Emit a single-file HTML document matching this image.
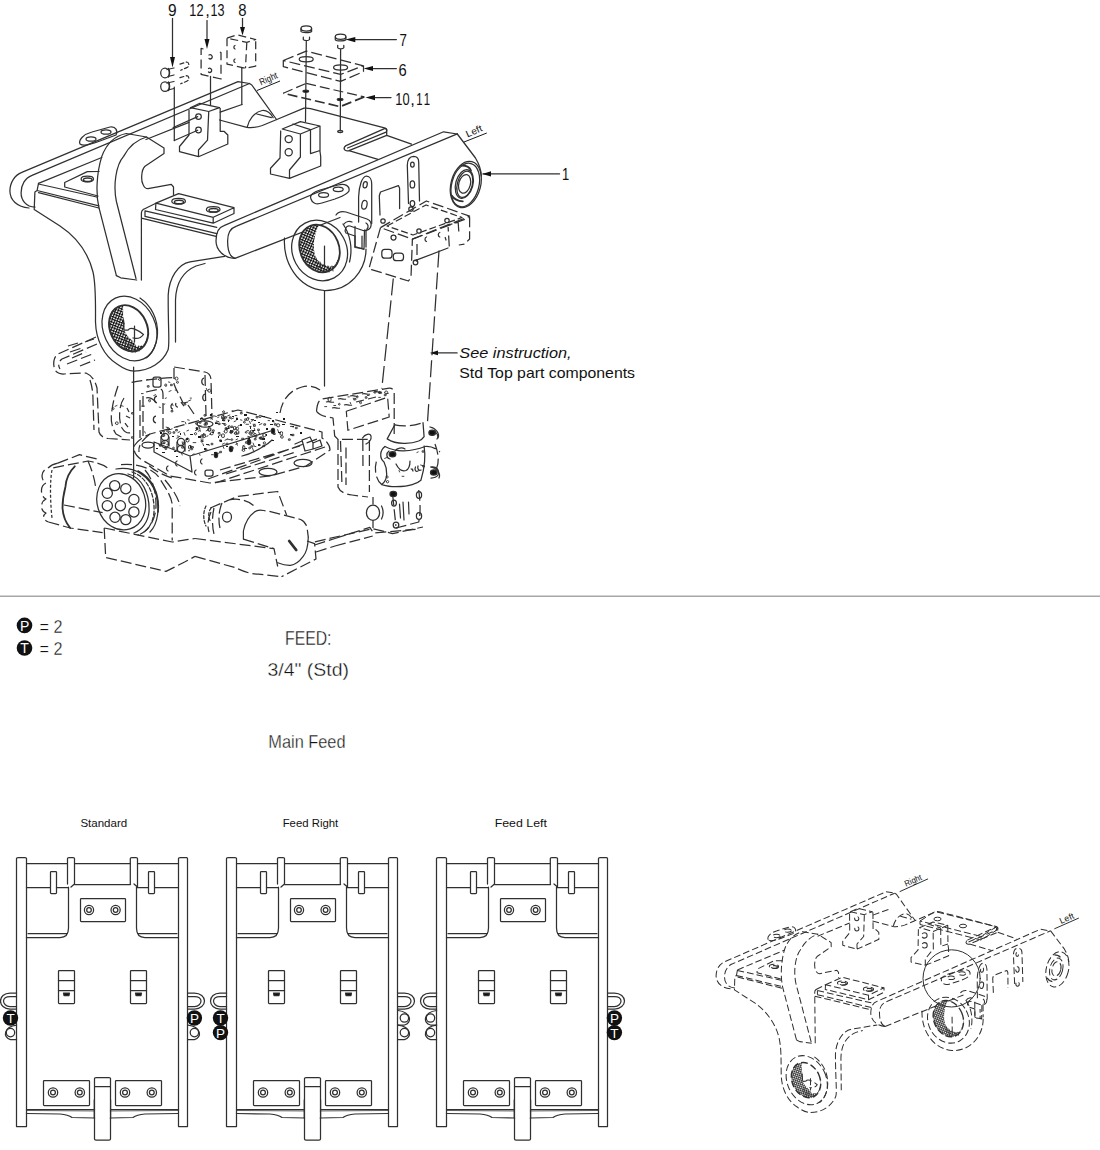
<!DOCTYPE html>
<html><head><meta charset="utf-8"><style>
html,body{margin:0;padding:0;background:#fff;width:1100px;height:1150px;overflow:hidden}
svg{display:block}
.ln path,.ln ellipse,.ln circle,.ln line,.ln rect,.ln polyline,.ln polygon{fill:none;stroke:#303030;stroke-width:1.25;stroke-linejoin:round;stroke-linecap:round}
.ds path,.ds ellipse,.ds circle,.ds line,.ds rect,.ds polyline{fill:none;stroke:#303030;stroke-width:1.25;stroke-dasharray:11 4;stroke-linejoin:round}
.small .ln path,.small .ln ellipse,.small .ln circle,.small .ln line,.small .ln rect{stroke-dasharray:9 4;stroke-width:1.35;stroke-linecap:butt}
text{font-family:"Liberation Sans",sans-serif;fill:#111}
.thin,.thin text{stroke:#fff;stroke-width:0.32}
</style></head><body>
<svg width="1100" height="1150" viewBox="0 0 1100 1150">
<!-- TOP FRAME -->
<g id="frame" class="ln">
 <!-- back bar -->
 <path d="M29,208 C17,207 10,200 9.9,191 C10,182 15,175 21.8,172.4 L238,81.6 L249.5,83.5"/>
 <path d="M35,207 C26,207 21,200 21.1,192.7 C21,185 25,178 32,175.3 L249.5,83.5"/>
 <path d="M249.5,83.5 L251.8,85 L276.5,119.5"/>
 <path d="M38.5,183.3 L101.8,157.5"/>
 <path d="M146,139.5 L189,122.4 M220.2,112.2 L242,104.5"/>
 <!-- half cylinder / plate back edge -->
 <path d="M219.5,120 L246.8,127.3 C252,128 258,127 262.3,125.5 L276.8,119.5 L304,108.2 C306,107.8 308,108 310.5,108.6 L383.5,127.6 C386,128.2 387,129.5 386.7,131"/>
 <path d="M247.3,126.8 C249,120 254,112 262.3,110.5 C267,110 271,114 273.2,117.7 M256.8,114 L271.4,117.7"/>
 <!-- slot -->
 <path d="M346,145.6 L384.5,128.6 C386.5,128 387,130 386.7,131 L386.7,135.4 L348.9,150.7 C345,151.5 342,149 346,145.6 M347.5,148 L386,132.2 M348.9,150.7 L378,159.4 M386.7,135.4 L411.5,144.2"/>
 <!-- front bar -->
 <path d="M234.9,258.4 C224,258 216,250 216,241 C216,233 219,227 224,225.6 L443.6,131.8 L457.3,134"/>
 <path d="M234.9,258.4 C230,257 227.6,250 227.6,241 C227.6,233 231,228 236.5,226.2 L457.3,133.8"/>
 
 <path d="M234.9,258.4 L340,217.5"/>
 <!-- bolt plate left (behind hook) -->
 <path d="M99,171.5 L87.3,171.6 L64.7,182.5 L64.7,187 L98,196"/>
 <ellipse cx="87.3" cy="179" rx="6.2" ry="2.8"/><ellipse cx="87.7" cy="179.7" rx="4.3" ry="1.8" style="stroke-width:1.5"/>
 <!-- frame block under back bar -->
 <path d="M38.5,184 L96.7,197 M37.1,190.5 L98.9,205.8 M38.5,192.7 L98.9,208 M38.5,183.3 L37.1,190.5 L34.9,192 L34.2,209.5 L60,226 C75,236 88,252 93,272 C96,285 95.5,300 95.5,322 C96,340 104,356 117,364 C124,369 130,371 134,371 C150,371 163,362 168,350 C170,345 168,330 168.2,295 C169,278 178,264 190,261.8 L224.5,256.4"/>
 <path d="M175.5,342 L175.5,300 C176,283 182,272 196,266 L205,263.5"/>
 <!-- bolt plates on top -->
 <path d="M80,144 C78,140 84,134 92,132 L110,127 C116,126 118,131 116,135 L100,141 C95,143 84,147 80,144 Z"/>
 <ellipse cx="91" cy="139" rx="5" ry="2.2"/><ellipse cx="106" cy="132" rx="5" ry="2.2"/>
 <path d="M155.9,203.2 L178.6,193.6 L234,207.7 L213.2,217.3 Z M155.9,203.2 L155.5,209.5 L213.2,223.2 L234,213.5 L234,207.7 M213.2,217.3 L213.2,223.2"/>
 <ellipse cx="178.6" cy="201.2" rx="6.8" ry="2.8"/><ellipse cx="179" cy="202" rx="4.6" ry="1.8" style="stroke-width:1.5"/><ellipse cx="213.2" cy="209.4" rx="6.8" ry="2.8"/><ellipse cx="213.6" cy="210.2" rx="4.6" ry="1.8" style="stroke-width:1.5"/>
 <path d="M145,210.9 L216.8,227.3 M145,216.4 L216.8,233.6 M141.4,218.2 L216,236.4 M143.2,209.5 L155.9,203.2 M145,210.9 L145,216.4 M141.4,280 L141.4,213 C141.4,211 142.5,210 143.2,209.5"/>
 <!-- hook -->
 <path d="M116.4,275.6 L98.9,207.3 C96,195 96,175 101.8,156.4 C106,145 114,136 126.2,133.5 L146.5,137 L164,148 L164,153.5 L145,166.2 C141,170 141,181 143,184.4 C144,187 146,188.7 148,188.7 L171.3,184.4 L173.5,187 L173.5,194.5"/>
 <path d="M136,278.5 L116.4,201.5 C113,185 116,165 123.6,156.4 C128,148 136,140 146.5,137"/>
 <path d="M116.4,275.6 L120.7,277.8 L136.7,280"/>
 <!-- pillow block 1 -->
 <path d="M190.3,107.7 L199.8,103.3 L219.5,107.7 L208.7,111.5 Z M189,110.3 L189,135 L179.5,146.5 L179.5,151.6 L198.5,156.7 L198.5,150 L207.5,140.2 L208.7,112.2 M220.2,108.4 L220.2,131.3 L224,131.3 L227.8,135 L227.8,144 L198.5,156.7"/>
 <circle cx="198.5" cy="116.6" r="2.8"/><circle cx="198.5" cy="130" r="2.8"/>
 <!-- pillow block 2 -->
 <path d="M282.2,129 L300.4,121.6 L320,126 L300.4,134 Z M293,124 L310.5,129.6 M280.7,131 L280,158 L270.5,168.2 L270.5,174 L289.5,178.4 L289.5,170 L300.4,157 L300.4,134.7 M310.5,129.6 L310.5,153.6 L320,150.5 M320,126 L320,151.5 L320.7,156.5 L320.7,166 L289.5,178.4"/>
 <circle cx="288.7" cy="139.1" r="3.6"/><circle cx="288.7" cy="152.2" r="3.6"/>
 <!-- bolt plate 3 under front bar -->
 <path d="M311,199 C309,195 314,192 320,190 L338,185 C345,183 350,186 349,191 C347,195 340,197 335,199 L322,203 C316,205 312,203 311,199 Z"/>
 <ellipse cx="323.6" cy="195" rx="5" ry="2.3"/><ellipse cx="338.2" cy="189.3" rx="5" ry="2.3"/>
</g>
<defs>
 <pattern id="hx" width="2.6" height="2.6" patternUnits="userSpaceOnUse" patternTransform="rotate(45)">
  <rect width="2.6" height="2.6" fill="#fff"/><path d="M0.5,0 L0.5,2.6 M0,0.5 L2.6,0.5" stroke="#111" stroke-width="1"/>
 </pattern>
 <pattern id="hl" width="2.6" height="2.6" patternUnits="userSpaceOnUse" patternTransform="rotate(45)">
  <rect width="2.6" height="2.6" fill="#fff"/><path d="M0.5,0 L0.5,2.6" stroke="#111" stroke-width="1.1"/>
 </pattern>
</defs>
<g class="ln">
 <!-- leg bushing -->
 <ellipse cx="129.5" cy="328.5" rx="26" ry="33.5" transform="rotate(-25 129.5 328.5)"/>
 <path d="M140,298 C152,306 158,320 157.5,334 C157,345 152,354 146,358" />
 <ellipse cx="128.6" cy="328.3" rx="18.5" ry="24" transform="rotate(-25 128.6 328.3)" style="fill:url(#hx);stroke:none"/>
 <path d="M123.1,305.6 L123.1,315.9 L124.6,323.3 L123.8,330 L127.5,335.9 L133.5,341.8 L136.4,346.2 L143,345.5 C147,340 148,335 147.5,328 C146,318 140,309 131,305.5 Z" style="fill:#fff;stroke:none"/>
 <ellipse cx="128.6" cy="328.3" rx="18.5" ry="24" transform="rotate(-25 128.6 328.3)" style="stroke-width:1.9"/>
 <path d="M123.8,330 L128,330 M128,330 C131,326 138,330 143.5,334.5 C141,338 137,339 133,338 M134.5,326 L134.5,342 M123.5,320 L124,330" />
 <path d="M126,338 L125,349 M129,341 L128.5,351 M132,343 L132,352 M135,346 L135.5,352 M138.5,346 L139,351" style="stroke-width:1"/>
 <!-- middle bushing -->
 <path d="M284.5,238 C283,262 297,288 324.5,290.5 C350,291 366,270 366,249"/>
 <ellipse cx="319.6" cy="250.5" rx="27" ry="31" transform="rotate(-28 319.6 250.5)"/>
 <path d="M343,224 C350,234 353,248 349.5,262"/>
 <ellipse cx="319.5" cy="248.5" rx="19.5" ry="24.5" transform="rotate(-22 319.5 248.5)" style="fill:url(#hx);stroke:none"/>
 <path d="M318.5,226 C314,235 312,248 316,258 C320,264 328,268 334,266 C339,260 341,250 339,240 C335,230 328,225 318.5,226 Z" style="fill:#fff;stroke:none"/>
 <ellipse cx="319.5" cy="248.5" rx="19.5" ry="24.5" transform="rotate(-22 319.5 248.5)" style="stroke-width:1.8"/>
 <path d="M316,258 L318,268 M320,262 L321,270 M324,265 L325,271.5 M328,266 L329,272 M332,266 L333,271" style="stroke-width:1"/>
 <line x1="324.5" y1="246" x2="324.5" y2="266"/>
 <!-- clamp -->
 <path d="M336,215 C338,212 342,211 346,212 L367,219 C371,220.5 372,224 370.5,227.5 C369,230 366,231 363,230.5 L350,226 C346,225 344,230 346,233 L355,236"/>
 <path d="M344,224 C346,221 350,221 352,222 M366,223 C368,224 369,227 367,229"/>
 <path d="M355,236 L355,247.5 L362,248.5 L362,236 M366,230 L366,247"/>
 <!-- ring 1 / lug -->
 <path d="M457.3,134 L475.5,158 C479,164 481.3,170 481.3,176"/>
 <ellipse cx="465.8" cy="184.5" rx="14.8" ry="23.6" transform="rotate(15 465.8 184.5)"/>
 <ellipse class="nosmall" cx="465.3" cy="185" rx="13.6" ry="22.2" transform="rotate(15 465.3 185)"/>
 <ellipse cx="464.3" cy="184" rx="8.6" ry="14.6" transform="rotate(15 464.3 184)"/>
 <ellipse class="nosmall" cx="464.8" cy="184.3" rx="7.5" ry="13.4" transform="rotate(15 464.8 184.3)"/>
 <ellipse cx="464.6" cy="183.9" rx="5.8" ry="9.5" transform="rotate(15 464.6 183.9)"/>
 <path d="M462,165.5 C466,165.5 469.5,167 471,170.5 M451.7,195.5 C454,199 458,201 462.8,201.3" style="stroke-width:1.8"/>
 <!-- tabs -->
 <path d="M358.6,222 L358.6,197 C359,186 362,176.5 366.5,176 C370,176 371.7,180 371.7,184 L371.7,223.5"/>
 <ellipse cx="365.2" cy="184.7" rx="2" ry="3.2" transform="rotate(12 365.2 184.7)"/><ellipse cx="364.4" cy="204.8" rx="2.6" ry="4.4" transform="rotate(12 364.4 204.8)"/>
 <path d="M408.5,203.5 L407.3,165.3 C407.5,159 410,156.5 413.6,156.4 C417,156.5 418.7,159 418.7,162 L419.5,201"/>
 <ellipse cx="412.4" cy="164.6" rx="1.8" ry="2.6"/><ellipse cx="412.4" cy="184.4" rx="2.3" ry="3.6"/><ellipse cx="412.4" cy="203.5" rx="2.3" ry="3"/>
 <path d="M380,215 L379.3,195.8 L380.5,192 L398.4,185.6 L399.6,188.2 L399.6,208.5"/>
 <path d="M355,226.4 L355,246.7 L364,249.3 L364.5,230"/>
</g>
<g class="ln">
 <line x1="324.5" y1="290.5" x2="324.5" y2="386"/>
 <line x1="133.6" y1="367" x2="133.6" y2="470"/>
 <!-- callout line 1 -->
 <line x1="483" y1="173.9" x2="559.5" y2="173.9"/>
</g>
<path d="M482.3,173.9 L491,171.2 L491,176.6 Z" fill="#111"/>
<g class="ds">
 <!-- valve block -->
 <path d="M380.5,227.6 L426.4,201 L469.6,216.2 L412.4,239.1 Z"/>
 <path d="M380.5,227.6 L369,268.4 C369.5,269.5 370.5,269.8 371.6,269.6 L408.5,281 L411,277.3 L412.4,239.1"/>
 <path d="M412.4,239.1 L469.6,217.5 L469.6,239 L464.5,244.2 L458.8,245 M458.8,231.5 L458.2,222.5 L448,225 L449.3,246.7"/>
 <path d="M387,226 L426,205 L462,217.5 L413,235 Z" style="stroke-dasharray:7 3"/>
 <path d="M417,244 L417,262"/>
 <path d="M393.3,278.5 L381.8,388.6" style="stroke-dasharray:17 5"/>
 <path d="M439,250.5 L427.3,425" style="stroke-dasharray:17 5"/>
</g>
<g class="ln">
 <circle cx="383" cy="221" r="2.2"/><circle cx="411" cy="209" r="2.2"/><circle cx="447" cy="220.5" r="2.2"/><circle cx="419" cy="231" r="2.2"/>
 <circle cx="393.5" cy="237.5" r="2.5"/>
 <rect x="381.8" y="249.3" width="10.2" height="8.9" rx="3"/>
 <rect x="393.3" y="253" width="10.2" height="7.7" rx="3"/>
 <path d="M415,260.7 L448,248"/>
 <circle cx="415.5" cy="262.5" r="2.3"/>
 <path d="M426.5,237 C424.5,237.5 424.5,241 426.5,241.5 M439.8,232.5 C437.8,233 437.8,236.5 439.8,237 M445.2,237.5 L446,240"/>
</g>
<g class="ln">
 <!-- arrows 9, 12,13, 8 -->
 <line x1="172.5" y1="18.4" x2="172.5" y2="60"/>
 <line x1="207" y1="20.5" x2="207" y2="42"/>
 <line x1="242.5" y1="18.4" x2="242.5" y2="29"/>
 <!-- bolts 9 -->
 <ellipse cx="165" cy="73" rx="4.3" ry="4.8"/>
 <ellipse cx="165" cy="86.6" rx="4.3" ry="4.8"/>
 <path d="M167,69.5 L174,68 M168,76.5 L174,75 M167,83 L174,81.5 M168,90 L174,88.5"/>
 <path d="M168.5,68.5 C170,70 170,75 168.5,77 M168.5,82 C170,83.5 170,88.5 168.5,90.5"/>
 <path d="M180,64.1 L186.8,62 C189.5,62.5 189.5,66.8 186.8,67.6 L180.7,70.2 M180,77.7 L186.8,75.6 C189.5,76.1 189.5,80.4 186.8,81.2 L180.7,83.8" style="stroke-dasharray:4 2.5"/>
 <line x1="174.3" y1="87" x2="174.3" y2="140.5"/>
 <path d="M173.2,127.5 L197.7,116.6 M174.3,140.5 L197.7,130.2"/>
 <line x1="210.5" y1="76.4" x2="210.5" y2="105"/>
 <path d="M241.8,68.2 L241.8,104.5"/>
 <!-- bolts 7 -->
 <ellipse cx="306.3" cy="28.5" rx="5.3" ry="2.6"/>
 <path d="M301,28.5 L301,31.5 C302,33 310,33 311.6,31.5 L311.6,28.5"/>
 <path d="M303.3,37.2 L303.3,39.5 C304,41 308.5,41 309.5,39.5 L309.5,37.2 M306.3,41.3 L305.5,121.5"/>
 <ellipse cx="340.6" cy="36.8" rx="5.3" ry="2.6"/>
 <path d="M335.3,36.8 L335.3,39.8 C336.5,41.3 344.5,41.3 345.9,39.8 L345.9,36.8"/>
 <path d="M337.7,45.4 L337.7,47.7 C338.5,49.2 343,49.2 343.8,47.7 L343.8,45.4 M340.6,49.5 L340.3,131"/>
 <!-- arrows 7, 6, 10,11 -->
 <line x1="350" y1="39.6" x2="396.4" y2="39.6"/>
 <line x1="368" y1="68.5" x2="396.4" y2="68.5"/>
 <line x1="370" y1="97.6" x2="391" y2="97.6"/>
 <ellipse cx="306.2" cy="59.3" rx="7" ry="2.6"/>
 <ellipse cx="340.6" cy="67.5" rx="7" ry="2.6"/>
 <ellipse cx="305.8" cy="91.2" rx="2.8" ry="1.1" style="fill:#111"/>
 <ellipse cx="340.1" cy="99.4" rx="2.8" ry="1.1" style="fill:#111"/>
 <ellipse cx="340.2" cy="131.5" rx="2.5" ry="1.1"/>
 <!-- See instruction arrow -->
 <line x1="436" y1="352.9" x2="457.1" y2="352.9"/>
</g>
<g fill="#111">
 <path d="M172.5,67.5 L170,57 L175,57 Z"/>
 <path d="M207,49 L204.5,39 L209.5,39 Z"/>
 <path d="M242.5,35.5 L240,27 L245,27 Z"/>
 <path d="M345.5,39.6 L355.3,37 L355.3,42.2 Z"/>
 <path d="M363.6,68.5 L373,66 L373,71 Z"/>
 <path d="M365.5,97.6 L375,95 L375,100.2 Z"/>
 <path d="M429.8,352.9 L438,350.6 L438,355.2 Z"/>
</g>
<g class="ds">
 <path d="M203.5,49 L201.1,48.4 L201.1,74.3 L221,79 L221,52.5 L218,51.8" style="stroke-dasharray:9 4.5"/>
 <path d="M227,38.2 L237.3,34.8 L255.7,39.5 L246.8,42.3 Z M227,38.2 L227,64.1 L245.5,68.2 L255.7,66.1 L255.7,39.5 M246.8,42.3 L245.5,68.2" style="stroke-dasharray:8 4"/>
 <path d="M283.3,60.5 L306.2,51.1 L363.5,65.8 L340.6,74.4 Z M283.3,60.5 L283.3,66.6 L340.6,81.4 L363.5,71.6 L363.5,65.8 M340.6,74.4 L340.6,81.4"/>
 <path d="M306.2,83.4 L364.3,96.9 M283.3,93.2 L306.2,83.4" style="stroke-dasharray:10 4"/><path d="M364.3,96.9 L340.1,106.7 L283.3,93.2" style="stroke-width:1.7;stroke-dasharray:10 4"/>
</g>
<g class="ln">
 <path d="M209,55 C211,54 213,56 212,58 C211,59 209.5,59 209,58.5 M208.5,68.5 C210,67.5 212.5,69 211.5,71.5 C210.5,72.5 209,72.5 208.5,72"/>
 <path d="M235,45.5 C233.5,46 233.5,48.5 235,49 M235,59 C233.5,59.5 233.5,62 235,62.5"/>
</g>
<g class="ds" style="stroke-dasharray:5 2.5">
 <!-- dashed arm upper-left -->
 <path d="M96,337 L58,354 C53,357 53,366 55,370 C57,373 60,374 64,374 L86,373 C91,375 95,380 97,388 L99,432 C100,436 104,438 108,438.5 L130,440"/>
 <path d="M97,344 L62,359 C58,362 58,366 60,369 M90,380 C92,386 93,392 93,400 L94,430"/>
 <path d="M68,346 L78,343 M70,352 L82,348 M72,358 L86,352 M67,364 L95,353 M85,342 L94,339 M80,366 L95,360"/>
 <!-- left block -->
 <path d="M118,386 C115,395 113,402 112,410 C110,420 112,428 116,434 L124,438.5 M124,398 C119,405 118,420 122,428 C125,433 130,434 132,432"/>
 <path d="M127,408 L129,412 M126,416 L130,418 M125,423 L128,427"/>
 <!-- center block -->
 <path d="M146,392 L160,389 C163,389 163,392 163,395 L163,432 M143,396 L143,436 M140,400 L140,438 M146,398 C152,396 155,402 158,404"/>
 <path d="M157,396 C154,396 153,402 157,403 M156,416 C153,416 152,422 156,423"/>
 <!-- right block -->
 <path d="M174,367 L205,372 C209,373 211,376 211,380 L212,416 M174,368 L174,384 C176,390 180,396 183,403 M205,375 L206,416 M183,403 L188,402 M188,405 L194,414"/>
 <path d="M204,378 C201,379 201,384 204,385 M205,394 C202,395 202,400 205,401"/>
 <path d="M172,404 C170,406 171,409 173,409 M176,403 C175,405 176,407 178,407 M181,402 L184,406"/>
 <path d="M131.6,382.4 C145,380 160,378 175.8,377.5"/>
 <!-- valve body base contour -->
 <path d="M134,446 C138,440 145,436 150,434 L238,410 L322,432 L322,438 C327,441 330,446 330,450 L306,466 L270,476 L210,483 L170,476 L142,460 C136,456 133,451 134,446"/>
 <path d="M150,434 C142,440 138,446 139,452 M172,478 C160,474 150,468 146,462"/>
 <path d="M208,479 L320,438 M215,483 L325,447 M220,470 L300,446 M226,474 L296,452"/>
 <!-- motor left -->
 <path d="M57.8,463.2 L79.5,454.7 L98,459.3 M53.2,467.8 L88,461 C100,463 106,466 110,470 M48.5,522 L70.2,528 L102.6,532.7 M64,505 L102.6,512.6"/>
 <path d="M57.8,463.2 C53,464 50,466 48,468 C41,470 40,480 46,483 C40,486 40,496 46,499 C40,502 40,511 46,513 C42,516 43,520 48.5,522"/>
 <path d="M52,470 C50,480 50,500 52,518" style="stroke-dasharray:3 2"/>
 <path d="M88,461 C92,470 95,480 96,490"/>
 <!-- boss behind connector -->
 <path d="M121,464.7 C140,463 155,470 160,479 C167,490 172,498 172.2,505 L172.2,540.5 M165,480 C170,486 178,496 180,506"/>
 <path d="M145,470 C152,478 156,490 156,505 C156,518 150,528 144,532"/>
 <!-- bottom body -->
 <path d="M104.2,528 L105.7,557.5 L166,571.4 L184.6,562 L195,556.4 M335,538.5 L369.8,527.4 L373.6,533 L415.6,529.3 M335,546 L372.7,536"/>
 <path d="M104.2,528 L172.2,542 L195,538.5"/>
 
 <!-- small motor housing -->
 <path d="M254.8,511.8 C257,510 261,510 263.7,510.5 L271.4,511.8 L300.6,519.5 C304,521 306,524 307,527 L308.3,537.3"/>
 <path d="M195,538.5 L274,548.7 L277.7,566.5 M243.4,539.2 L274,548.7"/>
 <path d="M210.3,508 L237,496.5 L277.7,491.5 L286.6,515 M211,512 C208,518 207,526 209,532 M214,508 C212,516 212,526 214,534 M222,503 C219,510 218,520 220,528 M229,500 C238,498 248,500 254,506"/>
 <path d="M307,541 L314.6,543.6 L316,559 L281.5,576.7 M195,556.4 L235.7,567.8 C242,571 250,574 258.6,574.2 L281.5,576.7 M314.6,545 L335,538.5 M316,552 L335,546"/>
 <!-- right column upper block -->
 <path d="M316.5,411.3 C317,405 318,401 321.5,399 L389.2,388.2 C392,388 394.2,390 394.2,393 L394.2,436 M316.5,411.3 C320,416 327,417 333,418 L334.7,436 L338,439.4 L367.7,439.4"/>
 <path d="M346.3,411.3 L387.6,397.3 L389.2,417 L347.9,430.3 Z" style="stroke-width:1.2"/>
 <path d="M326,402 C330,401 332,403 334,402 M338,399 C342,398 344,400 346,399 M350,396 C354,395 356,397 358,396 M362,394 C366,393 368,395 370,394 M374,392 C378,391 380,393 382,392 M332,408 C336,407 338,409 340,408 M344,405 C348,404 350,406 352,405 M356,402 L364,400 M368,399 L376,397"/>
 <path d="M280,413 C282,400 290,390 302,387 C310,385 316,387 320,390"/>
 <!-- columns -->
 <path d="M340.5,441 L342,485.6 M346,447.6 L346,485 M338,439 L338,487 C340,492 345,494 352,495 L368,497 M362.8,440 L363,470 M369.4,440 L369.4,492"/>
 <!-- pipe collar & housing -->
 <path d="M394.8,424.8 C399,426 404,426 407.8,425.9 C414,425.5 419,424 423,422.6"/>
 <path d="M376.3,461.7 C374,470 376,480 381.7,484.6 M435,444 C438,452 440,462 436,470 M425.2,446.5 C430,446 436,448 440,452"/>
 <path d="M392.6,494.3 L395.9,525.9 M418.7,490 C420,500 421,512 418.7,522 L395.9,528 M373,520.5 L373,528 M373,497 L373,504.5"/>
 <path d="M314.9,541.8 L372.7,528.6 L392.5,533.6 L423,527"/>
</g>
<g class="ln">
 <path d="M394.8,424.8 L387.2,438.9 C392,442 398,443.3 403.5,443.3 C410,443.5 415,442.5 418.7,441 C421,440 423,438.5 424.1,436.7 L423,422.6"/>
 <path d="M385,446.5 C392,450 398,451 403.5,450.9 C412,450.5 420,448.5 425.2,446.5"/>
 <path d="M385,446.5 C380,450 379,458 384,462 C388,470 388,480 381.7,484.6 C387,486 392,487 395.9,486.7 C403,486.5 408,486 412.2,484.6 C416,483.5 419,482 420.9,480.2 C424,470 426,458 424.1,446"/>
 <path d="M396,464 C399,470 403,471.5 406,470.5 C409,469 410,466 410,461"/>
 <path d="M433,431 C437,432 439,436 437,439 M389,451 C386,453 386,458 390,459 M431,467 C436,466 440,470 438,475 C436,478 433,478 431,478"/>
 <path d="M399.5,504 L400.5,518 M403,502 L404,520 M408.5,502 L409,514" style="stroke-width:1.2"/>
 <ellipse cx="419" cy="495" rx="2.6" ry="3.4"/><ellipse cx="419" cy="516" rx="2.6" ry="3.4"/><ellipse cx="396" cy="525" rx="2.8" ry="3"/><ellipse cx="394" cy="503" rx="2.4" ry="3"/>
 <path d="M415.5,467 C414,470 416,472 418,471 M418,466 C417,469 419,471 421,470 M412,469 L413,471"/>
 <path d="M362.5,438 C365,434 370,433 371,436 C372,440 368,443 366,444 M395,451 C397,448 402,447 405,449"/>
</g>
<g class="ln">
 <!-- connector -->
 <ellipse cx="121.2" cy="501.8" rx="24" ry="28.5" transform="rotate(-18 121.2 501.8)"/>
 <path d="M128,474 C142,477 150,494 149,512 C148,522 142,530 134,533"/>
 <path d="M132,472 C147,477 155,494 154,512 C153,524 147,532 138,535" style="stroke-dasharray:4 2"/>
 <path d="M116,469 C135,466 150,476 156,494 C160,508 158,524 150,532" />
 <path d="M138,471 C152,478 160,494 158,512" style="stroke-width:1.6"/>
 <circle cx="114.7" cy="485.6" r="5.1"/><circle cx="125.8" cy="488.7" r="5.1"/><circle cx="133.9" cy="499.5" r="5.1"/>
 <circle cx="133.9" cy="511.9" r="5.1"/><circle cx="125.8" cy="519.6" r="5.1"/><circle cx="115" cy="517.3" r="5.1"/>
 <circle cx="107.3" cy="505.7" r="5.1"/><circle cx="107.3" cy="493.3" r="5.1"/><circle cx="120.4" cy="505.7" r="5.1"/>
 <!-- motor solid arc -->
 <path d="M74.8,466.3 C69,472 66,480 65.5,486.4 C63,496 62.5,502 62.5,508 C63,516 66,523 70.2,528" style="stroke-width:1.8"/>
 <!-- small motor cylinder -->
 <path d="M254.8,511.8 C249,516 245,523 243.4,531 L243.4,539.2 M308.3,537.3 C308,548 306,553 303.2,556.4 C299,562 294,565 290.5,565.3 C286,565.5 281,564 277.7,562.7" style="stroke-width:1.2"/>
 <path d="M289.2,541 L296.2,550" style="stroke-width:2.8"/>
 <ellipse cx="227" cy="517" rx="4.5" ry="5"/>
 <path d="M211,508 C208,512 208,518 211,522 M206,506 C203,512 203,520 206,526" style="stroke-dasharray:3 2"/>
 <!-- small ring -->
 <ellipse cx="373" cy="512.8" rx="6.6" ry="7.6" style="stroke-width:1.3"/>
 <path d="M381.5,506 C383.5,510 383.5,515 381.5,519"/>
 <!-- bolts black -->
 <ellipse cx="432.2" cy="432.8" rx="3.3" ry="2.6" style="fill:#111"/>
 <ellipse cx="392.5" cy="454.3" rx="3.3" ry="2.6" style="fill:#111"/>
 <ellipse cx="433.8" cy="472.4" rx="3.3" ry="2.6" style="fill:#111"/>
 <ellipse cx="393.3" cy="493.9" rx="3.3" ry="2.6" style="fill:#111"/>
 <path d="M430,427 C436,428 440,434 438,438 M431,467 C437,468 441,474 439,478"/>
 <!-- valve block -->
 <path d="M154,442 L190,456 L192,472 M190,456 L274,430 M154,442 L154,452 L192,472"/>
 <ellipse cx="216" cy="455" rx="1.6" ry="2.6" style="fill:#111"/><ellipse cx="231" cy="449" rx="1.6" ry="2.6" style="fill:#111"/>
 <ellipse cx="249" cy="442" rx="1.6" ry="2.6" style="fill:#111"/><ellipse cx="273" cy="431" rx="1.6" ry="2.6" style="fill:#111"/>
 <path d="M168,466 C166,467 166,470 168,471 M177,461 C175,462 175,465 177,466 M202,459 C200,460 200,463 202,464 M196,470 C194,471 194,474 196,475"/>
 <rect x="205" y="470" width="8" height="6" rx="2"/>
 <ellipse cx="268" cy="472" rx="9" ry="3.6"/><ellipse cx="303" cy="463" rx="9" ry="3.6"/>
 <ellipse cx="205" cy="424" rx="8" ry="3.2"/><ellipse cx="148" cy="445" rx="6" ry="3"/>
 <path d="M242,456 C250,454 258,450 264,446 C268,444 270,442 272,440"/>
 <path d="M302,440 L310,437 L313,443 L313,449 L305,451 Z M313,443 L320,440 L322,446 L313,449 M295,444 L302,441"/>
 <!-- bolt clusters -->
 <circle cx="165" cy="437" r="3.6"/><circle cx="165" cy="444" r="3.6"/><circle cx="181" cy="442" r="3.6"/><circle cx="181" cy="449" r="3.6"/>
 <path d="M161,437 L161,446 M169,437 L169,446 M177,442 L177,451 M185,442 L185,451"/>
 <rect x="153" y="377" width="8" height="10" rx="2"/>
 <line x1="133.6" y1="470" x2="133.6" y2="478"/>
</g>
<g fill="#1a1a1a">
 <path d="M200,418h3v1h-3z M210,414h2v2h-2z M222,420h3v1h-3z M232,416h2v1h-2z M244,414h3v2h-3z M254,420h2v1h-2z M262,416h3v1h-3z M272,420h2v2h-2z M282,424h3v1h-3z M292,426h2v1h-2z M240,424h2v2h-2z M226,428h3v1h-3z M212,432h2v1h-2z M198,436h3v2h-3z M252,430h3v1h-3z M266,428h2v2h-2z M278,432h3v1h-3z M290,434h2v1h-2z M236,436h3v1h-3z M220,440h2v2h-2z M206,444h3v1h-3z M248,438h2v1h-2z M262,438h3v2h-3z M226,446h2v1h-2z M244,448h3v1h-3z M258,444h2v2h-2z M272,440h2v1h-2z M215,423h3v1h-3z M230,430h1v3h-1z M283,418h2v2h-2z M258,422h2v1h-2z M236,418h2v2h-2z M208,426h2v1h-2z M196,428h2v2h-2z M190,434h3v1h-3z M270,424h3v1h-3z M300,432h2v2h-2z M276,412h2v1h-2z M214,452h2v1h-2z M204,448h2v2h-2z M228,420h1v2h-1z M250,426h1v3h-1z M218,436h1v2h-1z M266,434h1v2h-1z"/>
 <path d="M160,432h2v2h-2z M172,436h2v1h-2z M186,438h2v2h-2z M162,452h3v1h-3z M176,456h2v1h-2z M168,429h2v1h-2z M180,433h1v2h-1z M156,448h2v1h-2z M190,446h1v2h-1z M174,451h2v1h-2z"/>
</g>
<g class="ln dots"><path d="M229.7,416.9h1.4v1.4h-1.4z M203.5,434.7l1.3,0.3 M199.9,429.9l0.5,1.3 M200.8,436.0a1.3,1.3 0 1 0 2.6,0a1.3,1.3 0 1 0 -2.6,0 M219.0,435.6l1.8,-0.8 M255.4,435.8h1.4v1.4h-1.4z M206.7,436.3l1.3,-0.5 M254.7,438.5h1.4v1.4h-1.4z M251.3,445.8h1.4v1.4h-1.4z M292.0,426.6l1.5,0.4 M204.5,423.8h1.4v1.4h-1.4z M231.7,430.6h1.4v1.4h-1.4z M203.6,433.5l0.7,1.7 M202.6,435.7a1.5,1.5 0 1 0 2.9,0a1.5,1.5 0 1 0 -2.9,0 M231.4,426.1h1.4v1.4h-1.4z M205.7,422.4h1.4v1.4h-1.4z M202.8,443.6l0.8,2.1 M225.6,427.7h1.4v1.4h-1.4z M198.3,431.2l1.3,-0.5 M218.7,423.2h1.4v1.4h-1.4z M247.6,417.7l1.6,0.4 M225.0,429.1l2.7,0.7 M211.7,418.1l0.6,1.5 M225.3,416.7h1.4v1.4h-1.4z M259.4,424.7l2.5,-1.1 M242.1,450.1a1.3,1.3 0 1 0 2.7,0a1.3,1.3 0 1 0 -2.7,0 M254.2,428.3l0.7,1.9 M217.7,417.5l1.2,-0.5 M253.7,434.7a1.3,1.3 0 1 0 2.6,0a1.3,1.3 0 1 0 -2.6,0 M203.3,419.6l2.3,0.0 M258.6,431.8l0.8,1.9 M246.0,424.3l2.5,0.0 M245.8,441.8h1.4v1.4h-1.4z M217.3,453.8l2.2,-1.0 M274.8,423.7h1.4v1.4h-1.4z M205.5,448.9h1.4v1.4h-1.4z M290.5,426.4l2.2,0.0 M260.8,438.2a1.4,1.4 0 1 0 2.8,0a1.4,1.4 0 1 0 -2.8,0 M216.3,421.0l2.6,0.7 M249.8,426.4l1.3,0.0 M245.1,418.9h1.4v1.4h-1.4z M231.8,447.2h1.4v1.4h-1.4z M204.4,414.7h1.4v1.4h-1.4z M229.8,432.2a1.3,1.3 0 1 0 2.6,0a1.3,1.3 0 1 0 -2.6,0 M230.9,439.6a0.9,0.9 0 1 0 1.8,0a0.9,0.9 0 1 0 -1.8,0 M236.4,442.7l1.0,2.6 M276.5,425.3a1.6,1.6 0 1 0 3.2,0a1.6,1.6 0 1 0 -3.2,0 M235.8,428.5a1.4,1.4 0 1 0 2.8,0a1.4,1.4 0 1 0 -2.8,0 M213.7,415.8l2.7,0.7 M259.6,437.4h1.4v1.4h-1.4z M206.7,444.5l2.9,0.7 M222.2,423.5l2.3,0.0 M252.6,448.4l0.9,2.4 M248.8,448.0a0.9,0.9 0 1 0 1.8,0a0.9,0.9 0 1 0 -1.8,0 M210.4,433.5a1.4,1.4 0 1 0 2.8,0a1.4,1.4 0 1 0 -2.8,0 M259.3,445.7l1.3,-0.6 M253.9,425.0h1.4v1.4h-1.4z M253.8,446.1l2.1,0.5 M206.2,430.8l2.6,-1.1 M242.1,438.2h1.4v1.4h-1.4z M249.3,441.9h1.4v1.4h-1.4z M250.1,432.0a1.4,1.4 0 1 0 2.7,0a1.4,1.4 0 1 0 -2.7,0 M221.5,435.7a1.5,1.5 0 1 0 2.9,0a1.5,1.5 0 1 0 -2.9,0 M210.3,415.6l1.3,0.3 M240.5,419.8l1.4,0.4 M234.1,421.6l1.9,-0.8 M236.0,432.4a1.5,1.5 0 1 0 2.9,0a1.5,1.5 0 1 0 -2.9,0 M212.8,429.9h1.4v1.4h-1.4z M231.3,419.0l2.3,-1.0 M231.1,431.1h1.4v1.4h-1.4z M236.0,433.8l2.7,-1.1 M222.6,411.8a1.0,1.0 0 1 0 2.0,0a1.0,1.0 0 1 0 -2.0,0 M208.0,429.4a1.5,1.5 0 1 0 2.9,0a1.5,1.5 0 1 0 -2.9,0 M221.6,416.9a1.3,1.3 0 1 0 2.5,0a1.3,1.3 0 1 0 -2.5,0 M202.0,441.7l1.2,-0.5 M262.0,446.9l2.5,-1.1 M223.5,415.6l1.1,2.8 M209.4,434.2l1.4,0.3 M221.9,418.3a1.3,1.3 0 1 0 2.6,0a1.3,1.3 0 1 0 -2.6,0 M251.2,419.5l2.4,0.0 M232.1,410.8l1.2,0.3 M249.5,421.3l0.9,2.2 M262.7,435.1a1.6,1.6 0 1 0 3.2,0a1.6,1.6 0 1 0 -3.2,0 M228.0,419.9l1.5,0.4 M238.1,426.0l1.3,-0.6 M240.8,412.5h1.4v1.4h-1.4z M234.3,433.3a1.3,1.3 0 1 0 2.6,0a1.3,1.3 0 1 0 -2.6,0 M215.3,422.4l1.9,0.0 M228.2,426.4l0.7,1.8 M225.0,440.2l2.4,-1.0 M223.5,414.1l1.2,-0.5 M227.2,439.0l2.8,0.7 M263.3,442.9a1.1,1.1 0 1 0 2.2,0a1.1,1.1 0 1 0 -2.2,0 M211.5,443.3h1.4v1.4h-1.4z M288.8,438.9h1.4v1.4h-1.4z M249.0,433.2a1.4,1.4 0 1 0 2.9,0a1.4,1.4 0 1 0 -2.9,0 M280.6,436.9a1.3,1.3 0 1 0 2.7,0a1.3,1.3 0 1 0 -2.7,0 M268.1,420.6l1.4,0.0 M295.8,427.3h1.4v1.4h-1.4z M251.3,421.2l1.9,-0.8 M273.8,433.1h1.4v1.4h-1.4z M272.6,421.6l1.6,0.4 M220.0,439.9h1.4v1.4h-1.4z M200.9,439.1l2.3,0.0 M222.4,444.2l2.0,-0.9 M245.3,432.3a0.9,0.9 0 1 0 1.8,0a0.9,0.9 0 1 0 -1.8,0 M218.6,432.5h1.4v1.4h-1.4z M224.1,431.4a1.6,1.6 0 1 0 3.2,0a1.6,1.6 0 1 0 -3.2,0 M253.1,424.3l2.1,0.0 M242.6,447.7a1.2,1.2 0 1 0 2.3,0a1.2,1.2 0 1 0 -2.3,0 M223.0,419.7a1.0,1.0 0 1 0 1.9,0a1.0,1.0 0 1 0 -1.9,0 M256.5,416.5h1.4v1.4h-1.4z M279.9,433.4a1.4,1.4 0 1 0 2.7,0a1.4,1.4 0 1 0 -2.7,0 M220.1,451.3h1.4v1.4h-1.4z M247.1,430.7l1.5,0.0 M235.1,415.6l1.8,0.0 M233.4,428.1a1.3,1.3 0 1 0 2.5,0a1.3,1.3 0 1 0 -2.5,0 M233.5,429.7l1.2,-0.5 M201.4,440.5h1.4v1.4h-1.4z M211.5,454.7l1.8,0.0 M277.7,429.7l0.9,2.4 M253.1,443.1l0.9,2.3 M258.8,416.4a1.2,1.2 0 1 0 2.4,0a1.2,1.2 0 1 0 -2.4,0 M290.8,435.3l1.9,0.0 M226.0,444.0a1.0,1.0 0 1 0 2.0,0a1.0,1.0 0 1 0 -2.0,0 M264.2,423.8h1.4v1.4h-1.4z M237.0,417.7l0.6,1.5 M253.2,430.8l0.9,2.4 M210.5,418.9l1.7,-0.7 M228.2,426.9a1.0,1.0 0 1 0 1.9,0a1.0,1.0 0 1 0 -1.9,0 M235.8,444.3l1.6,-0.7 M247.8,436.4l2.4,0.6 M236.0,439.7l1.6,-0.7 M207.8,429.6a1.4,1.4 0 1 0 2.9,0a1.4,1.4 0 1 0 -2.9,0 M292.5,434.3h1.4v1.4h-1.4z M242.7,446.0l1.4,-0.6 M263.3,445.2h1.4v1.4h-1.4z M227.6,415.9l2.2,-0.9 M205.4,423.8a1.0,1.0 0 1 0 1.9,0a1.0,1.0 0 1 0 -1.9,0 M223.1,446.4l0.8,2.0 M224.0,424.6a1.0,1.0 0 1 0 2.0,0a1.0,1.0 0 1 0 -2.0,0 M250.7,435.2l1.9,0.0 M200.4,418.9a1.3,1.3 0 1 0 2.6,0a1.3,1.3 0 1 0 -2.6,0 M204.4,420.5l0.7,1.7 M199.5,425.6l2.4,0.6 M195.8,423.4a0.9,0.9 0 1 0 1.7,0a0.9,0.9 0 1 0 -1.7,0 M246.6,419.2a1.0,1.0 0 1 0 1.9,0a1.0,1.0 0 1 0 -1.9,0 M243.5,422.2a0.9,0.9 0 1 0 1.8,0a0.9,0.9 0 1 0 -1.8,0 M259.7,438.1a1.2,1.2 0 1 0 2.4,0a1.2,1.2 0 1 0 -2.4,0 M258.0,429.1h1.4v1.4h-1.4z M163.3,434.6h1.4v1.4h-1.4z M163.6,442.1h1.4v1.4h-1.4z M176.0,429.5h1.4v1.4h-1.4z M192.8,454.4l1.3,-0.5 M166.7,431.0a0.9,0.9 0 1 0 1.8,0a0.9,0.9 0 1 0 -1.8,0 M198.4,425.7l1.0,2.5 M158.9,444.1l0.8,2.0 M162.9,431.5a0.8,0.8 0 1 0 1.6,0a0.8,0.8 0 1 0 -1.6,0 M172.7,448.0a0.8,0.8 0 1 0 1.7,0a0.8,0.8 0 1 0 -1.7,0 M196.4,427.5h1.4v1.4h-1.4z M195.4,430.5l2.7,-1.1 M166.8,444.5l1.6,-0.7 M185.9,440.0a1.6,1.6 0 1 0 3.1,0a1.6,1.6 0 1 0 -3.1,0 M159.8,444.5h1.4v1.4h-1.4z M188.5,447.2a1.5,1.5 0 1 0 2.9,0a1.5,1.5 0 1 0 -2.9,0 M161.0,436.4l2.9,0.0 M192.0,446.6h1.4v1.4h-1.4z M169.8,429.8l2.4,-1.0 M178.0,432.5l1.8,-0.8 M176.7,438.2l1.8,-0.8 M199.5,427.8l0.5,1.3 M199.5,454.0l0.5,1.3 M182.9,442.9h1.4v1.4h-1.4z M193.1,442.6l2.7,0.0 M167.6,427.9l0.6,1.6 M166.1,427.1l2.7,0.7 M168.5,432.7a1.2,1.2 0 1 0 2.4,0a1.2,1.2 0 1 0 -2.4,0 M165.4,447.9h1.4v1.4h-1.4z M199.6,421.8h1.4v1.4h-1.4z M191.0,449.1a0.8,0.8 0 1 0 1.7,0a0.8,0.8 0 1 0 -1.7,0 M181.2,452.4l1.0,2.6 M182.1,446.7h1.4v1.4h-1.4z M186.9,430.9l1.7,-0.7 M182.0,442.1l1.2,0.0 M173.4,431.8h1.4v1.4h-1.4z M177.3,435.9l2.6,0.7 M162.4,443.7l1.7,0.0 M188.5,450.7l1.2,0.0 M184.0,432.5l1.0,2.7 M194.4,433.7a1.1,1.1 0 1 0 2.2,0a1.1,1.1 0 1 0 -2.2,0 M359.7,402.5a0.9,0.9 0 1 0 1.7,0a0.9,0.9 0 1 0 -1.7,0 M365.6,396.8h1.4v1.4h-1.4z M328.0,399.3a1.6,1.6 0 1 0 3.1,0a1.6,1.6 0 1 0 -3.1,0 M378.7,392.4a1.0,1.0 0 1 0 2.0,0a1.0,1.0 0 1 0 -2.0,0 M380.0,392.8l1.7,0.4 M338.5,404.2a0.8,0.8 0 1 0 1.7,0a0.8,0.8 0 1 0 -1.7,0 M324.7,406.6l2.0,0.0 M367.4,395.5l1.7,0.0 M353.3,398.2l0.7,1.9 M354.6,398.4h1.4v1.4h-1.4z M378.7,397.4l1.7,0.0 M356.4,396.9a0.9,0.9 0 1 0 1.8,0a0.9,0.9 0 1 0 -1.8,0 M384.6,392.5a1.5,1.5 0 1 0 3.1,0a1.5,1.5 0 1 0 -3.1,0 M373.9,392.3a1.0,1.0 0 1 0 2.0,0a1.0,1.0 0 1 0 -2.0,0 M379.1,392.0h1.4v1.4h-1.4z M386.4,393.4l1.9,0.0 M350.2,402.4l0.6,1.5 M333.8,405.5l1.9,0.0 M384.7,394.3h1.4v1.4h-1.4z M348.0,396.9l1.4,0.0 M188.5,401.0l2.3,-1.0 M141.6,406.1l2.9,0.0 M185.3,422.3l0.6,1.6 M153.8,395.5l1.9,-0.8 M147.7,385.7h1.4v1.4h-1.4z M170.9,384.3h1.4v1.4h-1.4z M158.5,379.4a1.0,1.0 0 1 0 2.0,0a1.0,1.0 0 1 0 -2.0,0 M190.2,398.1l1.2,0.0 M171.5,410.5h1.4v1.4h-1.4z M163.8,404.5l1.1,-0.5 M165.2,398.4l1.2,-0.5 M112.3,408.6a0.9,0.9 0 1 0 1.8,0a0.9,0.9 0 1 0 -1.8,0 M132.0,412.6h1.4v1.4h-1.4z M176.2,426.9l1.8,0.0 M184.4,403.5h1.4v1.4h-1.4z M148.7,400.6a0.9,0.9 0 1 0 1.7,0a0.9,0.9 0 1 0 -1.7,0 M176.5,382.3a1.0,1.0 0 1 0 2.0,0a1.0,1.0 0 1 0 -2.0,0 M174.9,378.6a1.5,1.5 0 1 0 3.1,0a1.5,1.5 0 1 0 -3.1,0 M206.3,388.4l0.8,2.2 M207.7,390.7a1.5,1.5 0 1 0 3.0,0a1.5,1.5 0 1 0 -3.0,0 M120.5,405.5l2.7,0.7 M144.7,431.6l0.6,1.5 M159.2,407.1l1.2,0.3 M169.0,391.5l2.1,-0.9 M168.5,382.0l1.4,0.3 M146.5,379.9l1.2,-0.5 M181.7,421.6l2.3,0.0 M131.9,436.8h1.4v1.4h-1.4z M187.6,419.8l1.6,0.4 M175.2,390.1l1.3,0.3 M141.4,393.6l1.8,0.0 M115.4,423.2a1.4,1.4 0 1 0 2.8,0a1.4,1.4 0 1 0 -2.8,0 M172.2,403.3l0.9,2.4 M115.1,406.3l1.9,-0.8 M164.9,385.2a0.9,0.9 0 1 0 1.7,0a0.9,0.9 0 1 0 -1.7,0 M416.9,452.5l1.3,-0.6 M402.1,476.3l1.8,0.0 M423.1,465.6h1.4v1.4h-1.4z M386.2,477.0a1.0,1.0 0 1 0 2.0,0a1.0,1.0 0 1 0 -2.0,0 M386.3,481.7a1.2,1.2 0 1 0 2.4,0a1.2,1.2 0 1 0 -2.4,0 M384.7,458.4l2.2,-0.9 M399.0,470.5l0.6,1.5 M420.6,465.0l2.3,0.6 M422.5,450.8h1.4v1.4h-1.4z M411.0,469.0l1.9,0.5" style="stroke-width:0.9"/></g>
<g transform="translate(0,0)" class="ln">
<path d="M16.5,1126.5 L16.5,858.5 Q16.5,857.5 18,857.5 L25,857.5 Q26.5,857.5 26.5,858.5 L26.5,1126.5 Z"/>
<path d="M178.5,1126.5 L178.5,858.5 Q178.5,857.5 180,857.5 L186.5,857.5 Q187.5,857.5 187.5,858.5 L187.5,1126.5 Z"/>
<path d="M26.5,863.5 L67.5,863.5 M74.5,863.5 L130.3,863.5 M137.5,863.5 L178.5,863.5"/>
<path d="M26.5,887.5 L50,887.5 M56.5,887.5 L68,887.5 M137,887.5 L148.2,887.5 M154.6,887.5 L178.5,887.5"/>
<path d="M67.5,884 L67.5,858.5 Q67.5,857.5 69,857.5 L73,857.5 Q74.5,857.5 74.5,858.5 L74.5,884 L71,887"/>
<path d="M130.3,884 L130.3,858.5 Q130.3,857.5 131.8,857.5 L136,857.5 Q137.5,857.5 137.5,858.5 L137.5,887 L134,884"/>
<rect x="50.5" y="871.5" width="6" height="22" rx="0.8"/>
<rect x="148.5" y="871.5" width="6" height="22" rx="0.8"/>
<path d="M74.5,884.5 L130.5,884.5"/>
<path d="M68.5,887 L68.5,928 Q68.5,937.5 60,937.5 L26.5,937.5 M28,933.5 L67.5,933.5"/>
<path d="M136.5,887 L136.5,928 Q136.5,937.5 145,937.5 L178.5,937.5 M137.5,933.5 L177,933.5"/>
<rect x="80.5" y="898.5" width="45" height="23" rx="0.8"/>
<circle cx="89" cy="910" r="4.6"/><circle cx="89" cy="910" r="2.3"/>
<circle cx="115.6" cy="910" r="4.6"/><circle cx="115.6" cy="910" r="2.3"/>
<rect x="58.5" y="970.5" width="16" height="33" rx="0.8"/>
<path d="M58.5,980.5 L74.5,980.5 M58.5,990.5 L74.5,990.5"/>
<path d="M63.5,993 L69.5,993 L69.0,995.5 L64.0,995.5 Z" style="fill:#111"/>
<rect x="130.5" y="970.5" width="16" height="33" rx="0.8"/>
<path d="M130.5,980.5 L146.5,980.5 M130.5,990.5 L146.5,990.5"/>
<path d="M135.5,993 L141.5,993 L141.0,995.5 L136.0,995.5 Z" style="fill:#111"/>
<rect x="43.5" y="1080.5" width="46" height="25" rx="0.8"/>
<circle cx="53.0" cy="1092.5" r="4.7"/><circle cx="53.0" cy="1092.5" r="2.4"/>
<circle cx="79.8" cy="1092.5" r="4.7"/><circle cx="79.8" cy="1092.5" r="2.4"/>
<rect x="115.5" y="1080.5" width="46" height="25" rx="0.8"/>
<circle cx="125.0" cy="1092.5" r="4.7"/><circle cx="125.0" cy="1092.5" r="2.4"/>
<circle cx="151.8" cy="1092.5" r="4.7"/><circle cx="151.8" cy="1092.5" r="2.4"/>
<path d="M26.5,1109.5 L94.5,1109.5 M110.5,1109.5 L178.5,1109.5 M26.5,1113.5 L60,1114 C66,1114.5 70,1116 72,1117.5 L94.6,1118 M110.2,1118 L133,1117.5 C135,1116 139,1114.5 145,1114 L178.5,1113.5"/>
<path d="M26.5,1110.5 L94.6,1111 M110.2,1111 L178.5,1110.5" style="stroke-width:0.7"/>
<path d="M94.5,1139 L94.5,1078.5 Q94.5,1077.5 96,1077.5 L109,1077.5 Q110.5,1077.5 110.5,1078.5 L110.5,1139 Q110.5,1140 109,1140 L96,1140 Q94.5,1140 94.5,1139 Z M94.5,1086.5 L110.5,1086.5"/>
<path d="M94,1100 L94,1118 M110.8,1100 L110.8,1118" style="stroke-width:0.7"/>
<path d="M16.6,993 L10,993 C4,993 0.5,997 0.5,1001 C0.5,1005 4,1009 10,1009 L16.6,1009 M16.6,996.5 L10,996.5 C6,996.5 3.5,998.5 3.5,1001 C3.5,1003.5 6,1006.5 10,1006.5 L16.6,1006.5"/>
<path d="M188,993 L194.5,993 C200.5,993 204.5,997 204.5,1001 C204.5,1005 200.5,1009 194.5,1009 L188,1009 M188,996.5 L194.5,996.5 C198.5,996.5 201,998.5 201,1001 C201,1003.5 198.5,1006.5 194.5,1006.5 L188,1006.5"/>
</g>
<g transform="translate(0,0)"><circle cx="10.5" cy="1018" r="7.7" fill="#111"/><text x="10.5" y="1023" font-size="13.5" fill="#fff" text-anchor="middle" style="fill:#fff">T</text></g>
<g class="ln" transform="translate(0,0)"><circle cx="10.5" cy="1032.6" r="4.2"/><path d="M16.6,1025.1 C3.5,1026.6 2.5,1037.6 10.5,1039.6 L16.6,1039.6"/></g>
<g transform="translate(0,0)"><circle cx="194.4" cy="1018" r="7.7" fill="#111"/><text x="194.4" y="1023" font-size="13.5" fill="#fff" text-anchor="middle" style="fill:#fff">P</text></g>
<g class="ln" transform="translate(0,0)"><circle cx="194.4" cy="1032.6" r="4.2"/><path d="M188,1025.1 C201.4,1026.6 202.4,1037.6 194.4,1039.6 L188,1039.6"/></g>
<g transform="translate(210,0)" class="ln">
<path d="M16.5,1126.5 L16.5,858.5 Q16.5,857.5 18,857.5 L25,857.5 Q26.5,857.5 26.5,858.5 L26.5,1126.5 Z"/>
<path d="M178.5,1126.5 L178.5,858.5 Q178.5,857.5 180,857.5 L186.5,857.5 Q187.5,857.5 187.5,858.5 L187.5,1126.5 Z"/>
<path d="M26.5,863.5 L67.5,863.5 M74.5,863.5 L130.3,863.5 M137.5,863.5 L178.5,863.5"/>
<path d="M26.5,887.5 L50,887.5 M56.5,887.5 L68,887.5 M137,887.5 L148.2,887.5 M154.6,887.5 L178.5,887.5"/>
<path d="M67.5,884 L67.5,858.5 Q67.5,857.5 69,857.5 L73,857.5 Q74.5,857.5 74.5,858.5 L74.5,884 L71,887"/>
<path d="M130.3,884 L130.3,858.5 Q130.3,857.5 131.8,857.5 L136,857.5 Q137.5,857.5 137.5,858.5 L137.5,887 L134,884"/>
<rect x="50.5" y="871.5" width="6" height="22" rx="0.8"/>
<rect x="148.5" y="871.5" width="6" height="22" rx="0.8"/>
<path d="M74.5,884.5 L130.5,884.5"/>
<path d="M68.5,887 L68.5,928 Q68.5,937.5 60,937.5 L26.5,937.5 M28,933.5 L67.5,933.5"/>
<path d="M136.5,887 L136.5,928 Q136.5,937.5 145,937.5 L178.5,937.5 M137.5,933.5 L177,933.5"/>
<rect x="80.5" y="898.5" width="45" height="23" rx="0.8"/>
<circle cx="89" cy="910" r="4.6"/><circle cx="89" cy="910" r="2.3"/>
<circle cx="115.6" cy="910" r="4.6"/><circle cx="115.6" cy="910" r="2.3"/>
<rect x="58.5" y="970.5" width="16" height="33" rx="0.8"/>
<path d="M58.5,980.5 L74.5,980.5 M58.5,990.5 L74.5,990.5"/>
<path d="M63.5,993 L69.5,993 L69.0,995.5 L64.0,995.5 Z" style="fill:#111"/>
<rect x="130.5" y="970.5" width="16" height="33" rx="0.8"/>
<path d="M130.5,980.5 L146.5,980.5 M130.5,990.5 L146.5,990.5"/>
<path d="M135.5,993 L141.5,993 L141.0,995.5 L136.0,995.5 Z" style="fill:#111"/>
<rect x="43.5" y="1080.5" width="46" height="25" rx="0.8"/>
<circle cx="53.0" cy="1092.5" r="4.7"/><circle cx="53.0" cy="1092.5" r="2.4"/>
<circle cx="79.8" cy="1092.5" r="4.7"/><circle cx="79.8" cy="1092.5" r="2.4"/>
<rect x="115.5" y="1080.5" width="46" height="25" rx="0.8"/>
<circle cx="125.0" cy="1092.5" r="4.7"/><circle cx="125.0" cy="1092.5" r="2.4"/>
<circle cx="151.8" cy="1092.5" r="4.7"/><circle cx="151.8" cy="1092.5" r="2.4"/>
<path d="M26.5,1109.5 L94.5,1109.5 M110.5,1109.5 L178.5,1109.5 M26.5,1113.5 L60,1114 C66,1114.5 70,1116 72,1117.5 L94.6,1118 M110.2,1118 L133,1117.5 C135,1116 139,1114.5 145,1114 L178.5,1113.5"/>
<path d="M26.5,1110.5 L94.6,1111 M110.2,1111 L178.5,1110.5" style="stroke-width:0.7"/>
<path d="M94.5,1139 L94.5,1078.5 Q94.5,1077.5 96,1077.5 L109,1077.5 Q110.5,1077.5 110.5,1078.5 L110.5,1139 Q110.5,1140 109,1140 L96,1140 Q94.5,1140 94.5,1139 Z M94.5,1086.5 L110.5,1086.5"/>
<path d="M94,1100 L94,1118 M110.8,1100 L110.8,1118" style="stroke-width:0.7"/>
<path d="M16.6,993 L10,993 C4,993 0.5,997 0.5,1001 C0.5,1005 4,1009 10,1009 L16.6,1009 M16.6,996.5 L10,996.5 C6,996.5 3.5,998.5 3.5,1001 C3.5,1003.5 6,1006.5 10,1006.5 L16.6,1006.5"/>
<path d="M188,993 L194.5,993 C200.5,993 204.5,997 204.5,1001 C204.5,1005 200.5,1009 194.5,1009 L188,1009 M188,996.5 L194.5,996.5 C198.5,996.5 201,998.5 201,1001 C201,1003.5 198.5,1006.5 194.5,1006.5 L188,1006.5"/>
</g>
<g transform="translate(210,0)"><circle cx="10.5" cy="1018" r="7.7" fill="#111"/><text x="10.5" y="1023" font-size="13.5" fill="#fff" text-anchor="middle" style="fill:#fff">T</text></g>
<g transform="translate(210,0)"><circle cx="10.5" cy="1032.6" r="7.7" fill="#111"/><text x="10.5" y="1037.6" font-size="13.5" fill="#fff" text-anchor="middle" style="fill:#fff">P</text></g>
<g class="ln" transform="translate(210,0)"><circle cx="194.4" cy="1018" r="4.2"/><path d="M188,1010.5 C201.4,1012 202.4,1023 194.4,1025 L188,1025"/></g>
<g class="ln" transform="translate(210,0)"><circle cx="194.4" cy="1032.6" r="4.2"/><path d="M188,1025.1 C201.4,1026.6 202.4,1037.6 194.4,1039.6 L188,1039.6"/></g>
<g transform="translate(420,0)" class="ln">
<path d="M16.5,1126.5 L16.5,858.5 Q16.5,857.5 18,857.5 L25,857.5 Q26.5,857.5 26.5,858.5 L26.5,1126.5 Z"/>
<path d="M178.5,1126.5 L178.5,858.5 Q178.5,857.5 180,857.5 L186.5,857.5 Q187.5,857.5 187.5,858.5 L187.5,1126.5 Z"/>
<path d="M26.5,863.5 L67.5,863.5 M74.5,863.5 L130.3,863.5 M137.5,863.5 L178.5,863.5"/>
<path d="M26.5,887.5 L50,887.5 M56.5,887.5 L68,887.5 M137,887.5 L148.2,887.5 M154.6,887.5 L178.5,887.5"/>
<path d="M67.5,884 L67.5,858.5 Q67.5,857.5 69,857.5 L73,857.5 Q74.5,857.5 74.5,858.5 L74.5,884 L71,887"/>
<path d="M130.3,884 L130.3,858.5 Q130.3,857.5 131.8,857.5 L136,857.5 Q137.5,857.5 137.5,858.5 L137.5,887 L134,884"/>
<rect x="50.5" y="871.5" width="6" height="22" rx="0.8"/>
<rect x="148.5" y="871.5" width="6" height="22" rx="0.8"/>
<path d="M74.5,884.5 L130.5,884.5"/>
<path d="M68.5,887 L68.5,928 Q68.5,937.5 60,937.5 L26.5,937.5 M28,933.5 L67.5,933.5"/>
<path d="M136.5,887 L136.5,928 Q136.5,937.5 145,937.5 L178.5,937.5 M137.5,933.5 L177,933.5"/>
<rect x="80.5" y="898.5" width="45" height="23" rx="0.8"/>
<circle cx="89" cy="910" r="4.6"/><circle cx="89" cy="910" r="2.3"/>
<circle cx="115.6" cy="910" r="4.6"/><circle cx="115.6" cy="910" r="2.3"/>
<rect x="58.5" y="970.5" width="16" height="33" rx="0.8"/>
<path d="M58.5,980.5 L74.5,980.5 M58.5,990.5 L74.5,990.5"/>
<path d="M63.5,993 L69.5,993 L69.0,995.5 L64.0,995.5 Z" style="fill:#111"/>
<rect x="130.5" y="970.5" width="16" height="33" rx="0.8"/>
<path d="M130.5,980.5 L146.5,980.5 M130.5,990.5 L146.5,990.5"/>
<path d="M135.5,993 L141.5,993 L141.0,995.5 L136.0,995.5 Z" style="fill:#111"/>
<rect x="43.5" y="1080.5" width="46" height="25" rx="0.8"/>
<circle cx="53.0" cy="1092.5" r="4.7"/><circle cx="53.0" cy="1092.5" r="2.4"/>
<circle cx="79.8" cy="1092.5" r="4.7"/><circle cx="79.8" cy="1092.5" r="2.4"/>
<rect x="115.5" y="1080.5" width="46" height="25" rx="0.8"/>
<circle cx="125.0" cy="1092.5" r="4.7"/><circle cx="125.0" cy="1092.5" r="2.4"/>
<circle cx="151.8" cy="1092.5" r="4.7"/><circle cx="151.8" cy="1092.5" r="2.4"/>
<path d="M26.5,1109.5 L94.5,1109.5 M110.5,1109.5 L178.5,1109.5 M26.5,1113.5 L60,1114 C66,1114.5 70,1116 72,1117.5 L94.6,1118 M110.2,1118 L133,1117.5 C135,1116 139,1114.5 145,1114 L178.5,1113.5"/>
<path d="M26.5,1110.5 L94.6,1111 M110.2,1111 L178.5,1110.5" style="stroke-width:0.7"/>
<path d="M94.5,1139 L94.5,1078.5 Q94.5,1077.5 96,1077.5 L109,1077.5 Q110.5,1077.5 110.5,1078.5 L110.5,1139 Q110.5,1140 109,1140 L96,1140 Q94.5,1140 94.5,1139 Z M94.5,1086.5 L110.5,1086.5"/>
<path d="M94,1100 L94,1118 M110.8,1100 L110.8,1118" style="stroke-width:0.7"/>
<path d="M16.6,993 L10,993 C4,993 0.5,997 0.5,1001 C0.5,1005 4,1009 10,1009 L16.6,1009 M16.6,996.5 L10,996.5 C6,996.5 3.5,998.5 3.5,1001 C3.5,1003.5 6,1006.5 10,1006.5 L16.6,1006.5"/>
<path d="M188,993 L194.5,993 C200.5,993 204.5,997 204.5,1001 C204.5,1005 200.5,1009 194.5,1009 L188,1009 M188,996.5 L194.5,996.5 C198.5,996.5 201,998.5 201,1001 C201,1003.5 198.5,1006.5 194.5,1006.5 L188,1006.5"/>
</g>
<g class="ln" transform="translate(420,0)"><circle cx="10.5" cy="1018" r="4.2"/><path d="M16.6,1010.5 C3.5,1012 2.5,1023 10.5,1025 L16.6,1025"/></g>
<g class="ln" transform="translate(420,0)"><circle cx="10.5" cy="1032.6" r="4.2"/><path d="M16.6,1025.1 C3.5,1026.6 2.5,1037.6 10.5,1039.6 L16.6,1039.6"/></g>
<g transform="translate(420,0)"><circle cx="194.4" cy="1018" r="7.7" fill="#111"/><text x="194.4" y="1023" font-size="13.5" fill="#fff" text-anchor="middle" style="fill:#fff">P</text></g>
<g transform="translate(420,0)"><circle cx="194.4" cy="1032.6" r="7.7" fill="#111"/><text x="194.4" y="1037.6" font-size="13.5" fill="#fff" text-anchor="middle" style="fill:#fff">T</text></g>
<g class="small" transform="matrix(0.7487,-0.0034,0.0078,0.7618,707.2,830.4)"><!-- TOP FRAME -->
<g  class="ln">
 <!-- back bar -->
 <path d="M29,208 C17,207 10,200 9.9,191 C10,182 15,175 21.8,172.4 L238,81.6 L249.5,83.5"/>
 <path d="M35,207 C26,207 21,200 21.1,192.7 C21,185 25,178 32,175.3 L249.5,83.5"/>
 <path d="M249.5,83.5 L251.8,85 L276.5,119.5"/>
 <path d="M38.5,183.3 L101.8,157.5"/>
 <path d="M146,139.5 L189,122.4 M220.2,112.2 L242,104.5"/>
 <!-- half cylinder / plate back edge -->
 <path d="M219.5,120 L246.8,127.3 C252,128 258,127 262.3,125.5 L276.8,119.5 L304,108.2 C306,107.8 308,108 310.5,108.6 L383.5,127.6 C386,128.2 387,129.5 386.7,131"/>
 <path d="M247.3,126.8 C249,120 254,112 262.3,110.5 C267,110 271,114 273.2,117.7 M256.8,114 L271.4,117.7"/>
 <!-- slot -->
 <path d="M346,145.6 L384.5,128.6 C386.5,128 387,130 386.7,131 L386.7,135.4 L348.9,150.7 C345,151.5 342,149 346,145.6 M347.5,148 L386,132.2 M348.9,150.7 L378,159.4 M386.7,135.4 L411.5,144.2"/>
 <!-- front bar -->
 <path d="M234.9,258.4 C224,258 216,250 216,241 C216,233 219,227 224,225.6 L443.6,131.8 L457.3,134"/>
 <path d="M234.9,258.4 C230,257 227.6,250 227.6,241 C227.6,233 231,228 236.5,226.2 L457.3,133.8"/>
 
 <path d="M234.9,258.4 L340,217.5"/>
 <!-- bolt plate left (behind hook) -->
 <path d="M99,171.5 L87.3,171.6 L64.7,182.5 L64.7,187 L98,196"/>
 <ellipse cx="87.3" cy="179" rx="6.2" ry="2.8"/><ellipse cx="87.7" cy="179.7" rx="4.3" ry="1.8" style="stroke-width:1.5"/>
 <!-- frame block under back bar -->
 <path d="M38.5,184 L96.7,197 M37.1,190.5 L98.9,205.8 M38.5,192.7 L98.9,208 M38.5,183.3 L37.1,190.5 L34.9,192 L34.2,209.5 L60,226 C75,236 88,252 93,272 C96,285 95.5,300 95.5,322 C96,340 104,356 117,364 C124,369 130,371 134,371 C150,371 163,362 168,350 C170,345 168,330 168.2,295 C169,278 178,264 190,261.8 L224.5,256.4"/>
 <path d="M175.5,342 L175.5,300 C176,283 182,272 196,266 L205,263.5"/>
 <!-- bolt plates on top -->
 <path d="M80,144 C78,140 84,134 92,132 L110,127 C116,126 118,131 116,135 L100,141 C95,143 84,147 80,144 Z"/>
 <ellipse cx="91" cy="139" rx="5" ry="2.2"/><ellipse cx="106" cy="132" rx="5" ry="2.2"/>
 <path d="M155.9,203.2 L178.6,193.6 L234,207.7 L213.2,217.3 Z M155.9,203.2 L155.5,209.5 L213.2,223.2 L234,213.5 L234,207.7 M213.2,217.3 L213.2,223.2"/>
 <ellipse cx="178.6" cy="201.2" rx="6.8" ry="2.8"/><ellipse cx="179" cy="202" rx="4.6" ry="1.8" style="stroke-width:1.5"/><ellipse cx="213.2" cy="209.4" rx="6.8" ry="2.8"/><ellipse cx="213.6" cy="210.2" rx="4.6" ry="1.8" style="stroke-width:1.5"/>
 <path d="M145,210.9 L216.8,227.3 M145,216.4 L216.8,233.6 M141.4,218.2 L216,236.4 M143.2,209.5 L155.9,203.2 M145,210.9 L145,216.4 M141.4,280 L141.4,213 C141.4,211 142.5,210 143.2,209.5"/>
 <!-- hook -->
 <path d="M116.4,275.6 L98.9,207.3 C96,195 96,175 101.8,156.4 C106,145 114,136 126.2,133.5 L146.5,137 L164,148 L164,153.5 L145,166.2 C141,170 141,181 143,184.4 C144,187 146,188.7 148,188.7 L171.3,184.4 L173.5,187 L173.5,194.5"/>
 <path d="M136,278.5 L116.4,201.5 C113,185 116,165 123.6,156.4 C128,148 136,140 146.5,137"/>
 <path d="M116.4,275.6 L120.7,277.8 L136.7,280"/>
 <!-- pillow block 1 -->
 <path d="M190.3,107.7 L199.8,103.3 L219.5,107.7 L208.7,111.5 Z M189,110.3 L189,135 L179.5,146.5 L179.5,151.6 L198.5,156.7 L198.5,150 L207.5,140.2 L208.7,112.2 M220.2,108.4 L220.2,131.3 L224,131.3 L227.8,135 L227.8,144 L198.5,156.7"/>
 <circle cx="198.5" cy="116.6" r="2.8"/><circle cx="198.5" cy="130" r="2.8"/>
 <!-- pillow block 2 -->
 <path d="M282.2,129 L300.4,121.6 L320,126 L300.4,134 Z M293,124 L310.5,129.6 M280.7,131 L280,158 L270.5,168.2 L270.5,174 L289.5,178.4 L289.5,170 L300.4,157 L300.4,134.7 M310.5,129.6 L310.5,153.6 L320,150.5 M320,126 L320,151.5 L320.7,156.5 L320.7,166 L289.5,178.4"/>
 <circle cx="288.7" cy="139.1" r="3.6"/><circle cx="288.7" cy="152.2" r="3.6"/>
 <!-- bolt plate 3 under front bar -->
 <path d="M311,199 C309,195 314,192 320,190 L338,185 C345,183 350,186 349,191 C347,195 340,197 335,199 L322,203 C316,205 312,203 311,199 Z"/>
 <ellipse cx="323.6" cy="195" rx="5" ry="2.3"/><ellipse cx="338.2" cy="189.3" rx="5" ry="2.3"/>
</g>

<g class="ln">
 <!-- leg bushing -->
 <ellipse cx="129.5" cy="328.5" rx="26" ry="33.5" transform="rotate(-25 129.5 328.5)"/>
 <path d="M140,298 C152,306 158,320 157.5,334 C157,345 152,354 146,358" />
 <ellipse cx="128.6" cy="328.3" rx="18.5" ry="24" transform="rotate(-25 128.6 328.3)" style="fill:url(#hx);stroke:none"/>
 <path d="M123.1,305.6 L123.1,315.9 L124.6,323.3 L123.8,330 L127.5,335.9 L133.5,341.8 L136.4,346.2 L143,345.5 C147,340 148,335 147.5,328 C146,318 140,309 131,305.5 Z" style="fill:#fff;stroke:none"/>
 <ellipse cx="128.6" cy="328.3" rx="18.5" ry="24" transform="rotate(-25 128.6 328.3)" style="stroke-width:1.9"/>
 <path d="M123.8,330 L128,330 M128,330 C131,326 138,330 143.5,334.5 C141,338 137,339 133,338 M134.5,326 L134.5,342 M123.5,320 L124,330" />
 <path d="M126,338 L125,349 M129,341 L128.5,351 M132,343 L132,352 M135,346 L135.5,352 M138.5,346 L139,351" style="stroke-width:1"/>
 <!-- middle bushing -->
 <path d="M284.5,238 C283,262 297,288 324.5,290.5 C350,291 366,270 366,249"/>
 <ellipse cx="319.6" cy="250.5" rx="27" ry="31" transform="rotate(-28 319.6 250.5)"/>
 <path d="M343,224 C350,234 353,248 349.5,262"/>
 <ellipse cx="319.5" cy="248.5" rx="19.5" ry="24.5" transform="rotate(-22 319.5 248.5)" style="fill:url(#hx);stroke:none"/>
 <path d="M318.5,226 C314,235 312,248 316,258 C320,264 328,268 334,266 C339,260 341,250 339,240 C335,230 328,225 318.5,226 Z" style="fill:#fff;stroke:none"/>
 <ellipse cx="319.5" cy="248.5" rx="19.5" ry="24.5" transform="rotate(-22 319.5 248.5)" style="stroke-width:1.8"/>
 <path d="M316,258 L318,268 M320,262 L321,270 M324,265 L325,271.5 M328,266 L329,272 M332,266 L333,271" style="stroke-width:1"/>
 <line x1="324.5" y1="246" x2="324.5" y2="266"/>
 <!-- clamp -->
 <path d="M336,215 C338,212 342,211 346,212 L367,219 C371,220.5 372,224 370.5,227.5 C369,230 366,231 363,230.5 L350,226 C346,225 344,230 346,233 L355,236"/>
 <path d="M344,224 C346,221 350,221 352,222 M366,223 C368,224 369,227 367,229"/>
 <path d="M355,236 L355,247.5 L362,248.5 L362,236 M366,230 L366,247"/>
 <!-- ring 1 / lug -->
 <path d="M457.3,134 L475.5,158 C479,164 481.3,170 481.3,176"/>
 <ellipse cx="465.8" cy="184.5" rx="14.8" ry="23.6" transform="rotate(15 465.8 184.5)"/>
 
 <ellipse cx="464.3" cy="184" rx="8.6" ry="14.6" transform="rotate(15 464.3 184)"/>
 
 <ellipse cx="464.6" cy="183.9" rx="5.8" ry="9.5" transform="rotate(15 464.6 183.9)"/>
 <path d="M462,165.5 C466,165.5 469.5,167 471,170.5 M451.7,195.5 C454,199 458,201 462.8,201.3" style="stroke-width:1.8"/>
 <!-- tabs -->
 <path d="M358.6,222 L358.6,197 C359,186 362,176.5 366.5,176 C370,176 371.7,180 371.7,184 L371.7,223.5"/>
 <ellipse cx="365.2" cy="184.7" rx="2" ry="3.2" transform="rotate(12 365.2 184.7)"/><ellipse cx="364.4" cy="204.8" rx="2.6" ry="4.4" transform="rotate(12 364.4 204.8)"/>
 <path d="M408.5,203.5 L407.3,165.3 C407.5,159 410,156.5 413.6,156.4 C417,156.5 418.7,159 418.7,162 L419.5,201"/>
 <ellipse cx="412.4" cy="164.6" rx="1.8" ry="2.6"/><ellipse cx="412.4" cy="184.4" rx="2.3" ry="3.6"/><ellipse cx="412.4" cy="203.5" rx="2.3" ry="3"/>
 <path d="M380,215 L379.3,195.8 L380.5,192 L398.4,185.6 L399.6,188.2 L399.6,208.5"/>
 <path d="M355,226.4 L355,246.7 L364,249.3 L364.5,230"/>
</g>
</g>
<g class="ln">
 <circle cx="951.6" cy="978.4" r="28.6" style="stroke-width:1"/>
 <line x1="900" y1="891.5" x2="927.7" y2="879" style="stroke-width:1"/>
 <line x1="1054.7" y1="928.7" x2="1078.5" y2="918.2" style="stroke-width:1"/>
</g>
<text font-size="8.5" transform="translate(906,886.7) rotate(-24)" textLength="18" lengthAdjust="spacingAndGlyphs">Right</text>
<text font-size="8.5" transform="translate(1061,924) rotate(-24)" textLength="15" lengthAdjust="spacingAndGlyphs">Left</text>
<line x1="0" y1="596.3" x2="1100" y2="596.3" stroke="#a8a8a8" stroke-width="1.6"/>
<g class="ds">
 <path d="M920,921 L935,911.5 L996.5,926.8 L981,936.4 Z M920,921 L920,924.5 L981,940 L996.5,930.3 L996.5,926.8 M981,936.4 L981,940" style="stroke-dasharray:7 3;stroke-width:1"/>
 <ellipse cx="937.5" cy="919" rx="3.6" ry="1.8" style="stroke-dasharray:none;stroke-width:1"/>
 <ellipse cx="963" cy="926" rx="3.6" ry="1.8" style="stroke-dasharray:none;stroke-width:1"/>
</g>
<g font-size="16.5">
 <text x="168" y="15.7" textLength="8.6" lengthAdjust="spacingAndGlyphs">9</text>
 <text x="189.3" y="15.7" textLength="14.2" lengthAdjust="spacingAndGlyphs">12</text><text x="205.3" y="15.7">,</text><text x="210.5" y="15.7" textLength="14" lengthAdjust="spacingAndGlyphs">13</text>
 <text x="238.2" y="15.7" textLength="8.3" lengthAdjust="spacingAndGlyphs">8</text>
 <text x="399.5" y="46.4" textLength="7.4" lengthAdjust="spacingAndGlyphs">7</text>
 <text x="398.6" y="75.5" textLength="8.2" lengthAdjust="spacingAndGlyphs">6</text>
 <text x="395.3" y="104.5" textLength="14.3" lengthAdjust="spacingAndGlyphs">10</text><text x="410.3" y="104.5">,</text><text x="416.3" y="104.5" textLength="6.3" lengthAdjust="spacingAndGlyphs">1</text><text x="423.7" y="104.5" textLength="6.3" lengthAdjust="spacingAndGlyphs">1</text>
 <text x="562" y="179.5" textLength="7.2" lengthAdjust="spacingAndGlyphs">1</text>
</g>
<text x="459.3" y="358.4" font-size="15" font-style="italic" textLength="112.3" lengthAdjust="spacingAndGlyphs">See instruction,</text>
<text x="459.3" y="378.4" font-size="15" textLength="175.7" lengthAdjust="spacingAndGlyphs">Std Top part components</text>
<text font-size="9.5" transform="translate(261,85.5) rotate(-24)" textLength="19" lengthAdjust="spacingAndGlyphs">Right</text>
<line x1="257" y1="90.5" x2="280" y2="81" stroke="#1a1a1a" stroke-width="1"/>
<text font-size="9.5" transform="translate(467.5,137.5) rotate(-24)" textLength="17" lengthAdjust="spacingAndGlyphs">Left</text>
<line x1="464" y1="142" x2="486.8" y2="133" stroke="#1a1a1a" stroke-width="1"/>
<circle cx="24.5" cy="625.4" r="7.8" fill="#111"/>
<text x="24.7" y="630.6" font-size="14" text-anchor="middle" style="fill:#fff">P</text>
<circle cx="24.5" cy="648" r="7.8" fill="#111"/>
<text x="24.5" y="653.3" font-size="14" text-anchor="middle" style="fill:#fff">T</text>
<text class="thin" x="39.5" y="633.2" font-size="17.5" textLength="23" lengthAdjust="spacingAndGlyphs">= 2</text>
<text class="thin" x="39.5" y="654.9" font-size="17.5" textLength="23" lengthAdjust="spacingAndGlyphs">= 2</text>
<text class="thin" x="285" y="645.3" font-size="20" textLength="46.5" lengthAdjust="spacingAndGlyphs">FEED:</text>
<text class="thin" x="267.5" y="675.7" font-size="18.5" textLength="81.5" lengthAdjust="spacingAndGlyphs">3/4" (Std)</text>
<text class="thin" x="268.3" y="748" font-size="18" textLength="77.2" lengthAdjust="spacingAndGlyphs">Main Feed</text>
<text x="80.4" y="826.8" font-size="11.8" textLength="46.8" lengthAdjust="spacingAndGlyphs">Standard</text>
<text x="282.7" y="826.8" font-size="11.8" textLength="55.5" lengthAdjust="spacingAndGlyphs">Feed Right</text>
<text x="494.7" y="826.8" font-size="11.8" textLength="52.2" lengthAdjust="spacingAndGlyphs">Feed Left</text>

</svg></body></html>
